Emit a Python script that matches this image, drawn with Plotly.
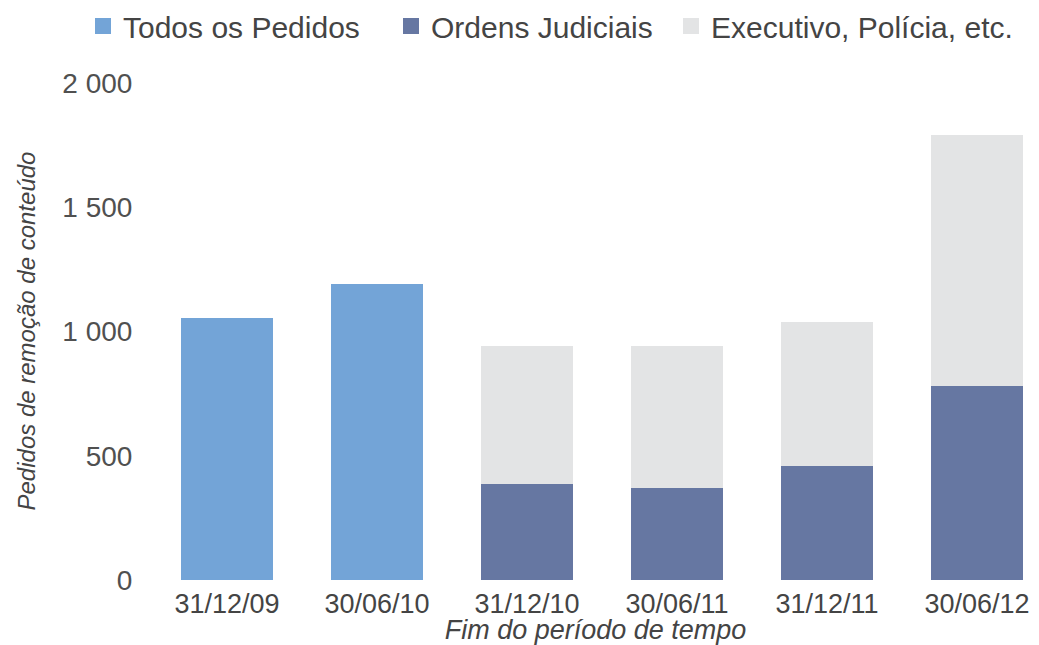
import plotly.graph_objects as go

categories = ["31/12/09", "30/06/10", "31/12/10", "30/06/11", "31/12/11", "30/06/12"]
todos = [1055, 1192, None, None, None, None]
ordens = [None, None, 386, 370, 460, 782]
executivo = [None, None, 556, 572, 579, 1009]
y_ticks = [0, 500, 1000, 1500, 2000]
y_tick_labels = ["0", "500", "1 000", "1 500", "2 000"]

series_names = ["Todos os Pedidos", "Ordens Judiciais", "Executivo, Polícia, etc."]
series_colors = ["#73A4D7", "#6677A2", "#E3E4E5"]
series_values = [todos, ordens, executivo]

FONT = "Liberation Sans, Arial, sans-serif"
TXT = "#444444"

# page body has an 8px margin; the figure fills the visible 1031x637 area
W, H = 1031, 637
L, T, B = 144, 75, 65
PLOT_H = H - T - B
PLOT_W = W - L

fig = go.Figure()
legend_ids = ["legend", "legend2", "legend3"]
for name, color, vals, lid in zip(series_names, series_colors, series_values, legend_ids):
    fig.add_trace(go.Bar(name=name, x=categories, y=vals, showlegend=False,
                         marker=dict(color=color, line=dict(width=0))))
    # legend swatch (larger square than the default bar swatch)
    fig.add_trace(go.Scatter(name=name, x=[None], y=[None], mode="markers",
                             marker=dict(symbol="square", size=20, color=color),
                             legend=lid, showlegend=True, hoverinfo="skip"))

legend_top = (PLOT_H + T + 8) / PLOT_H
legend_common = dict(orientation="h", xref="container", yref="paper",
                     y=legend_top, xanchor="left", yanchor="top",
                     font=dict(size=30, color=TXT), itemclick=False,
                     bgcolor="rgba(0,0,0,0)")

fig.update_layout(
    width=W, height=H,
    barmode="stack", bargap=0.39,
    paper_bgcolor="white", plot_bgcolor="white",
    margin=dict(l=L, r=0, t=T, b=B, autoexpand=False),
    font=dict(family=FONT, size=28, color=TXT),
    legend=dict(x=75 / W, **legend_common),
    legend2=dict(x=383 / W, **legend_common),
    legend3=dict(x=663 / W, **legend_common),
    xaxis=dict(range=[-0.5, 5.413], showgrid=False, zeroline=False, showline=False,
               automargin=False,
               ticks="outside", ticklen=0, tickcolor="rgba(0,0,0,0)",
               tickfont=dict(size=27, color=TXT),
               title=dict(text="Fim do período de tempo", standoff=0,
                          font=dict(size=27, color=TXT, style="italic"))),
    yaxis=dict(range=[0, 2000], showgrid=False, zeroline=False, showline=False,
               automargin=False,
               tickvals=y_ticks, ticktext=y_tick_labels,
               ticks="outside", ticklen=13, tickcolor="rgba(0,0,0,0)",
               tickfont=dict(size=28, color="#505050")),
    annotations=[dict(text="Pedidos de remoção de conteúdo", textangle=-90,
                      xref="paper", yref="paper", x=(18 - L) / PLOT_W, y=0.5,
                      xanchor="center", yanchor="middle", showarrow=False,
                      font=dict(size=24, color=TXT, style="italic"))],
)

fig.write_html("out.html")
